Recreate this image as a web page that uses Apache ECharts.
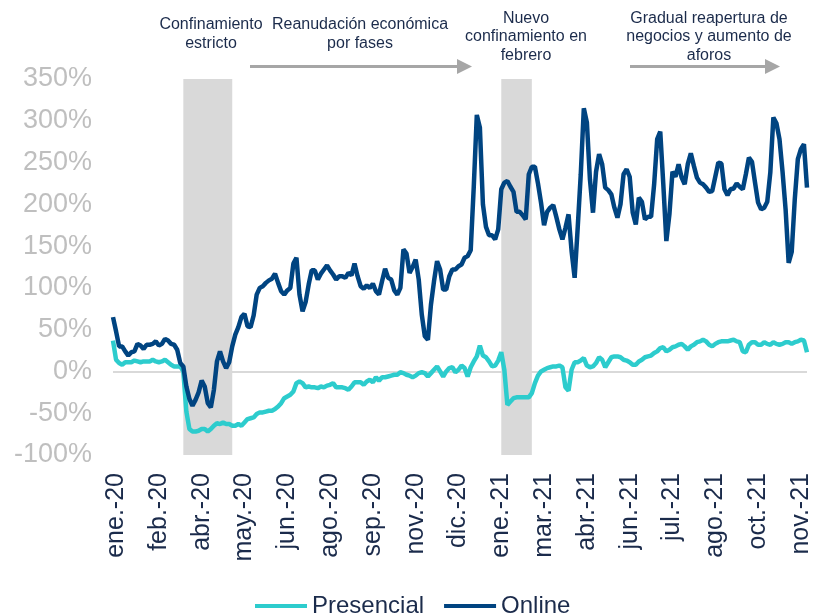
<!DOCTYPE html>
<html>
<head>
<meta charset="utf-8">
<script src="https://cdn.jsdelivr.net/npm/echarts@6/dist/echarts.min.js"></script>
<style>
  html, body { margin: 0; padding: 0; background: #fff; }
  #chart { width: 815px; height: 614px; }
</style>
</head>
<body>
<div id="chart"></div>
<script>
// serie cada 3 días desde el 11-ene-2020
const startDate = '2020-01-11'
const stepDays = 3
const monthNames = ['ene.', 'feb.', 'mar.', 'abr.', 'may.', 'jun.', 'jul.', 'ago.', 'sep.', 'oct.', 'nov.', 'dic.']

const presencial = [
  37, 14, 10, 8, 11, 11, 11, 13, 12, 11,
  12, 12, 12, 14, 12, 11, 12, 14, 11, 8,
  6, 6, 6, 0, -48, -69, -72, -72, -71, -69,
  -69, -72, -69, -65, -62, -63, -61, -63, -63, -65,
  -65, -63, -65, -61, -57, -56, -55, -51, -49, -49,
  -48, -47, -47, -45, -42, -38, -32, -30, -28, -24,
  -14, -12, -14, -19, -18, -19, -19, -20, -18, -19,
  -17, -16, -14, -19, -19, -19, -20, -22, -18, -13,
  -13, -13, -16, -12, -10, -13, -7, -11, -7, -7,
  -6, -5, -4, -4, -1, -2, -4, -5, -7, -5,
  -2, -1, -2, -6, -2, 2, 6, 0, -6, 0,
  4, 5, -1, 2, 7, 4, -6, 5, 12, 18,
  31, 19, 17, 12, 6, 7, 13, 23, 2, -40,
  -36, -32, -31, -31, -31, -31, -31, -26, -14, -5,
  0, 2, 4, 5, 6, 6, 7, 5, -19, -23,
  2, 11, 11, 13, 16, 7, 5, 6, 10, 17,
  14, 5, 11, 17, 18, 18, 17, 14, 13, 11,
  8, 8, 12, 14, 17, 18, 19, 22, 24, 28,
  29, 24, 26, 29, 30, 32, 33, 30, 26, 30,
  32, 35, 36, 38, 36, 32, 30, 33, 35, 36,
  36, 36, 37, 38, 36, 35, 24, 23, 32, 35,
  35, 32, 32, 35, 33, 32, 35, 33, 32, 33,
  35, 35, 33, 35, 36, 38, 37, 23
]

const online = [
  65, 48, 30, 30, 24, 19, 23, 24, 33, 31,
  27, 32, 32, 33, 36, 31, 33, 39, 37, 33,
  32, 26, 10, 6, -18, -33, -41, -34, -25, -11,
  -18, -38, -43, -22, 12, 24, 12, 4, 11, 30,
  44, 53, 65, 69, 54, 53, 67, 92, 100, 102,
  106, 109, 111, 117, 106, 96, 92, 97, 100, 129,
  136, 92, 72, 83, 104, 121, 121, 110, 117, 122,
  127, 121, 116, 110, 114, 114, 112, 118, 115, 129,
  114, 102, 99, 103, 100, 105, 96, 92, 108, 123,
  112, 110, 97, 92, 100, 146, 141, 118, 125, 134,
  110, 68, 42, 38, 80, 108, 132, 122, 98, 98,
  114, 122, 122, 126, 128, 136, 138, 145, 221, 307,
  292, 200, 173, 163, 163, 158, 170, 218, 226, 228,
  221, 215, 191, 191, 187, 182, 236, 245, 245, 225,
  202, 175, 191, 196, 199, 185, 170, 158, 172, 188,
  144, 112, 172, 236, 315, 298, 230, 190, 239, 260,
  248, 220, 217, 212, 196, 184, 200, 236, 242, 233,
  190, 176, 208, 203, 182, 185, 185, 224, 278, 287,
  224, 156, 188, 239, 233, 248, 232, 224, 248, 261,
  246, 232, 226, 224, 220, 215, 216, 233, 250, 249,
  218, 211, 218, 219, 225, 221, 218, 236, 256, 251,
  226, 202, 194, 196, 203, 238, 304, 297, 278, 239,
  194, 130, 143, 206, 254, 266, 272, 220
]

// periodos sombreados (confinamientos)
const lockdowns = [['2020-03-20', '2020-05-07'], ['2021-01-26', '2021-02-25']]

const yTicks = { min: -100, max: 350, interval: 50 }

const navy = '#004481'
const aqua = '#2dcccd'
const textColor = '#1b2b4b'
const fontFamily = '"Liberation Sans", Arial, sans-serif'

const categories = []
const t0 = Date.parse(startDate + 'T00:00:00Z')
for (let i = 0; i < online.length; i++) {
  categories.push(new Date(t0 + i * stepDays * 86400000).toISOString().slice(0, 10))
}

function monthLabel(value) {
  const parts = value.split('-')
  return monthNames[+parts[1] - 1] + '-' + parts[0].slice(2)
}

// solo se ve la linea del 0%
const splitColors = []
for (let v = yTicks.min; v <= yTicks.max; v += yTicks.interval) {
  splitColors.push(v === 0 ? '#d9d9d9' : 'rgba(0,0,0,0)')
}

function arrow(x1, x2, y) {
  return [
    { type: 'line', shape: { x1: x1, y1: y, x2: x2 - 14, y2: y }, style: { stroke: '#a6a6a6', lineWidth: 3 } },
    { type: 'polygon', shape: { points: [[x2 - 15, y - 7.5], [x2, y], [x2 - 15, y + 7.5]] }, style: { fill: '#a6a6a6' } }
  ]
}

function note(text, x, y) {
  return {
    type: 'text', x: x, y: y,
    style: { text: text, fill: textColor, font: '16px ' + fontFamily, align: 'center', verticalAlign: 'middle', lineHeight: 18.5 }
  }
}

const chart = echarts.init(document.getElementById('chart'))

chart.setOption({
  animation: false,
  grid: { left: 113, right: 8, top: 79, height: 376 },
  legend: {
    data: ['Presencial', 'Online'],
    top: 589,
    left: 250,
    icon: 'rect',
    itemWidth: 52,
    itemHeight: 4,
    itemGap: 20,
    textStyle: { fontSize: 24, color: textColor, fontFamily: fontFamily }
  },
  xAxis: {
    type: 'category',
    data: categories,
    boundaryGap: false,
    axisLine: { show: false },
    axisTick: { show: false },
    axisLabel: {
      rotate: 90,
      margin: 18,
      interval: (index) => index % 14 === 1,
      formatter: monthLabel,
      fontSize: 25,
      color: textColor,
      fontFamily: fontFamily
    }
  },
  yAxis: {
    type: 'value',
    min: yTicks.min,
    max: yTicks.max,
    interval: yTicks.interval,
    axisLine: { show: false },
    axisTick: { show: false },
    axisLabel: { formatter: '{value}%', fontSize: 27, color: '#bfbfbf', margin: 21, fontFamily: fontFamily },
    splitLine: { show: true, lineStyle: { color: splitColors, width: 2 } }
  },
  series: [
    {
      name: 'Presencial',
      type: 'line',
      data: presencial,
      showSymbol: false,
      color: aqua,
      lineStyle: { width: 4.5, color: aqua },
      markArea: {
        silent: true,
        itemStyle: { color: '#d9d9d9' },
        data: lockdowns.map(r => [{ xAxis: r[0] }, { xAxis: r[1] }])
      }
    },
    {
      name: 'Online',
      type: 'line',
      data: online,
      showSymbol: false,
      color: navy,
      lineStyle: { width: 4.5, color: navy }
    }
  ],
  graphic: [
    note('Confinamiento\nestricto', 211, 34),
    note('Reanudación económica\npor fases', 360, 34),
    note('Nuevo\nconfinamiento en\nfebrero', 526, 37),
    note('Gradual reapertura de\nnegocios y aumento de\naforos', 709, 37),
    ...arrow(250, 472, 66.5),
    ...arrow(630, 780, 66.5)
  ]
})
</script>
</body>
</html>
